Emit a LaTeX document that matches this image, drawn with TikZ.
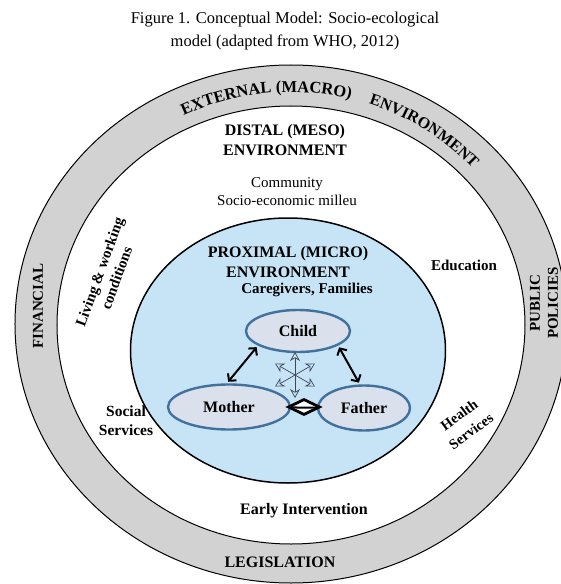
\documentclass[tikz,border=0pt]{standalone}
\usepackage{fontspec}
\setmainfont{Liberation Serif}
\usetikzlibrary{shapes.geometric,arrows.meta,decorations.text}

\definecolor{ringgray}{RGB}{210,210,210}
\definecolor{microblue}{RGB}{198,228,246}
\definecolor{memberfill}{RGB}{218,224,236}
\definecolor{memberedge}{RGB}{65,113,156}
\definecolor{burstgray}{RGB}{60,72,88}

\tikzset{
  setting/.style={font=\bfseries\fontsize{15}{18}\selectfont, align=center, inner sep=0pt},
  level/.style={font=\bfseries\fontsize{16}{19.5}\selectfont, align=center, inner sep=0pt},
  plainlabel/.style={font=\fontsize{15}{18}\selectfont, align=center, inner sep=0pt},
  member/.style={ellipse, draw=memberedge, line width=2.4pt, fill=memberfill, font=\bfseries\fontsize{16}{16}\selectfont, inner sep=0pt},
  tie/.style={{Straight Barb[length=5pt,width=11pt]}-{Straight Barb[length=5pt,width=11pt]}, line width=2pt, shorten <=2pt, shorten >=2pt},
  burst/.style={{Stealth[open,length=9pt,width=10pt]}-{Stealth[open,length=9pt,width=10pt]}, draw=burstgray, line width=0.7pt},
}

\begin{document}
\begin{tikzpicture}[x=1pt, y=1pt]
    \useasboundingbox (-291, -260) rectangle (269, 324);

    \node[plainlabel, font=\fontsize{16.5}{22.5}\selectfont] (title) at (-6, 293) {Figure 1. Conceptual Model: Socio-ecological\\model (adapted from WHO, 2012)};

    \draw[line width=1pt, fill=ringgray] (0, 0) ellipse [x radius=276, y radius=259];
    \draw[line width=1pt, fill=white] (0, -1) ellipse [x radius=234, y radius=219];

    \path[decorate, decoration={text along path, text={|\bfseries\fontsize{16.5}{16.5}\selectfont|EXTERNAL (MACRO)}}]
        (116:245 and 232) arc [start angle=116, end angle=60, x radius=245, y radius=232];
    \path[decorate, decoration={text along path, text={|\bfseries\fontsize{16}{16}\selectfont|ENVIRONMENT}}]
        (71.5:245 and 232) arc [start angle=71.5, end angle=25, x radius=245, y radius=232];

    \node[setting, rotate=90] (financial) at (-253, 18) {FINANCIAL};
    \node[setting, rotate=90] (policies) at (253, 21) {PUBLIC\\POLICIES};
    \node[level] (legislation) at (-11, -238) {LEGISLATION};

    \node[setting, font=\bfseries\fontsize{15.5}{19}\selectfont] (social) at (-165, -97) {Social\\Services};

    \draw[line width=1.5pt, fill=microblue] (-3, -26.5) ellipse [x radius=157.5, y radius=132.5];

    \node[level] (distal) at (-6, 184) {DISTAL (MESO)\\ENVIRONMENT};
    \node[plainlabel] (community) at (-4, 132) {Community\\Socio-economic milleu};
    \node[setting, rotate=70] (living) at (-183, 49) {Living \& working\\conditions};
    \node[setting] (education) at (173, 59) {Education};
    \node[setting, rotate=36, font=\bfseries\fontsize{14.5}{20}\selectfont] (health) at (174, -99) {Health\\Services};
    \node[level] (early) at (13, -187) {Early Intervention};

    \node[level] (proximal) at (-3, 62) {PROXIMAL (MICRO)\\ENVIRONMENT};
    \node[setting] (caregivers) at (16, 34) {Caregivers, Families};

    \node[member, minimum width=104, minimum height=42] (child) at (7, -7) {Child};
    \node[member, minimum width=122, minimum height=45] (mother) at (-62, -83) {Mother};
    \node[member, minimum width=92, minimum height=45] (father) at (73, -84) {Father};

    \draw[tie] (child.200) to (mother.95);
    \draw[tie] (child.-20) to (father.100);

    \node[diamond, draw, line width=2.8pt, fill=white, aspect=2.2, minimum width=32, minimum height=16, inner sep=0pt] (link) at (13, -83) {};
    \draw[line width=2pt] (mother) to (father);

    \coordinate (burst) at (4, -51);
    \foreach \a in {90, 30, 150}
        \draw[burst] (burst) ++(\a:23) -- ++(\a+180:46);
\end{tikzpicture}
\end{document}
